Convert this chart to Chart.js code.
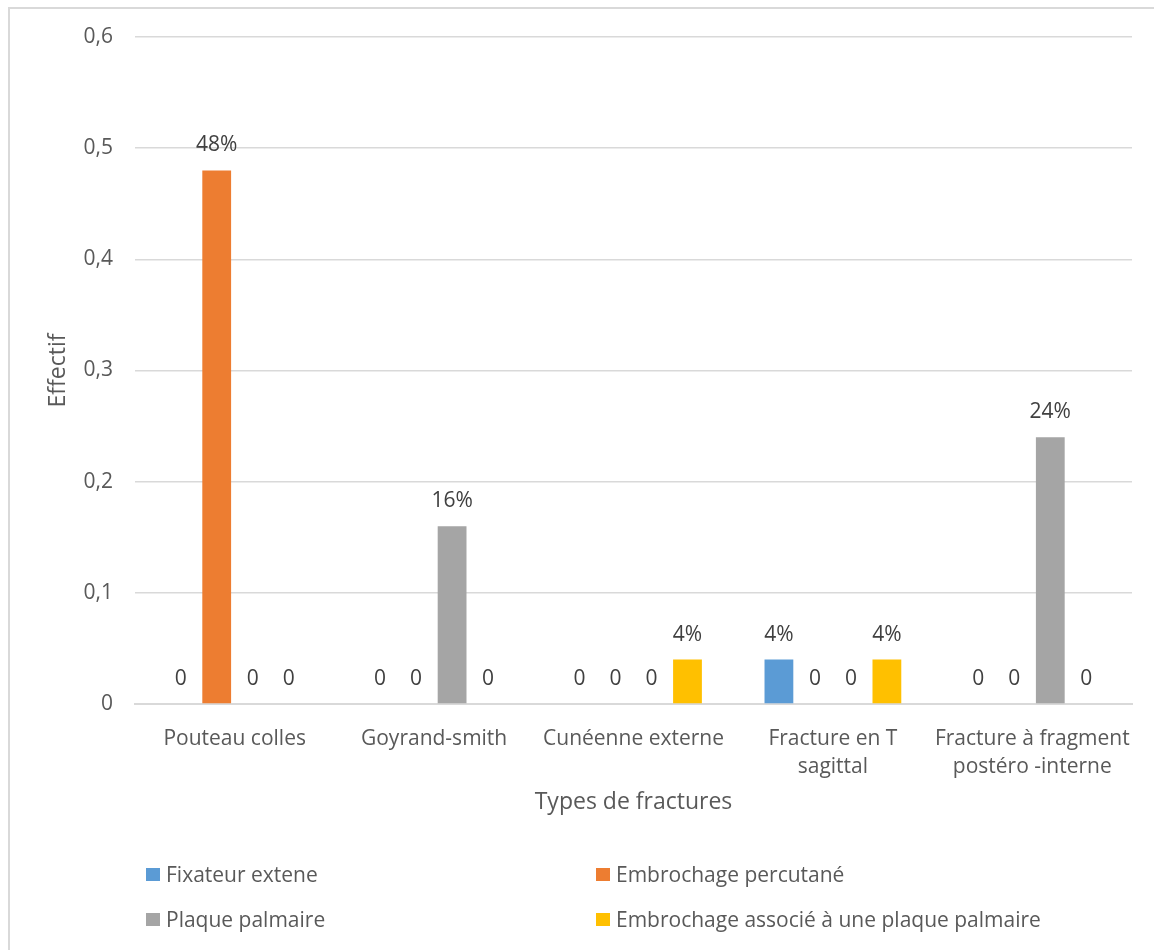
<!DOCTYPE html>
<html>
<head>
<meta charset="utf-8">
<script src="https://cdn.jsdelivr.net/npm/chart.js@4"></script>
<style>
  html, body { margin: 0; padding: 0; background: #fff; }
  #wrap { position: relative; width: 1154px; height: 950px; overflow: hidden; font-family: "Open Sans", sans-serif; }
  #frame { position: absolute; left: 8px; top: 7px; width: 1200px; height: 1000px; border: 2px solid #d9d9d9; box-sizing: border-box; }
  #chart { position: absolute; left: 0; top: 0; }
  .leg { position: absolute; display: flex; align-items: center; font-size: 21px; color: #595959; white-space: nowrap; }
  .leg span.box { display: inline-block; width: 14px; height: 13px; margin-right: 6px; }
</style>
</head>
<body>
<div id="wrap">
  <div id="frame"></div>
  <canvas id="chart" width="1154" height="950"></canvas>
  <div id="legend"></div>
</div>
<script>
// Data
const categories = ['Pouteau colles', 'Goyrand-smith', 'Cunéenne externe', ['Fracture en T', 'sagittal'], ['Fracture à fragment', 'postéro -interne']];
const seriesNames = ['Fixateur extene', 'Embrochage percutané', 'Plaque palmaire', 'Embrochage associé à une plaque palmaire'];
const fixateur = [0, 0, 0, 0.04, 0];
const embrochage = [0.48, 0, 0, 0, 0];
const plaque = [0, 0.16, 0, 0, 0.24];
const embrochagePlaque = [0, 0, 0.04, 0.04, 0];
const colors = ['#5B9BD5', '#ED7D31', '#A5A5A5', '#FFC000'];
const yTicks = [0, 0.1, 0.2, 0.3, 0.4, 0.5, 0.6];

const FONT = '"Open Sans", sans-serif';

// value labels above each bar ("0" for empty, percent otherwise)
const barLabels = {
    id: 'barLabels',
    afterDatasetsDraw(chart) {
        const ctx = chart.ctx;
        ctx.save();
        ctx.font = '21px ' + FONT;
        ctx.fillStyle = '#404040';
        ctx.textAlign = 'center';
        ctx.textBaseline = 'middle';
        chart.data.datasets.forEach((ds, i) => {
            chart.getDatasetMeta(i).data.forEach((bar, j) => {
                const v = ds.data[j];
                const txt = v === 0 ? '0' : Math.round(v * 100) + '%';
                ctx.fillText(txt, bar.x, bar.y - 25);
            });
        });
        ctx.restore();
    }
};

const seriesData = [fixateur, embrochage, plaque, embrochagePlaque];

new Chart(document.getElementById('chart').getContext('2d'), {
    type: 'bar',
    data: {
        labels: categories,
        datasets: seriesNames.map((name, i) => ({
            label: name,
            data: seriesData[i],
            backgroundColor: colors[i],
            categoryPercentage: 0.722,
            barPercentage: 0.8
        }))
    },
    options: {
        responsive: false,
        animation: false,
        devicePixelRatio: 1,
        layout: { padding: { left: 36, top: 37, right: 22, bottom: 126 } },
        plugins: {
            legend: { display: false },
            tooltip: { enabled: false }
        },
        scales: {
            x: {
                grid: { display: false },
                border: { color: '#d9d9d9', width: 2 },
                ticks: {
                    color: '#595959',
                    font: { family: FONT, size: 21, lineHeight: '28px' },
                    padding: 13,
                    maxRotation: 0,
                    autoSkip: false
                },
                title: {
                    display: true,
                    text: 'Types de fractures',
                    color: '#595959',
                    font: { family: FONT, size: 23 },
                    padding: { top: 0, bottom: 8 }
                },
                afterFit(scale) { scale.height = 120; }
            },
            y: {
                min: 0,
                max: 0.6,
                afterBuildTicks(scale) { scale.ticks = yTicks.map(v => ({ value: v })); },
                grid: { color: '#d9d9d9', lineWidth: 1.5, drawTicks: false },
                border: { display: false },
                ticks: {
                    color: '#595959',
                    font: { family: FONT, size: 21 },
                    padding: 22,
                    callback: v => String(Math.round(v * 10) / 10).replace('.', ',')
                },
                title: {
                    display: true,
                    text: 'Effectif',
                    color: '#595959',
                    font: { family: FONT, size: 23 },
                    padding: { top: 9, bottom: 0 }
                },
                afterFit(scale) { scale.width = 99; }
            }
        }
    },
    plugins: [barLabels]
});

// legend laid out in two columns like the reference
const legend = document.getElementById('legend');
const legPos = [[146, 874], [596, 874], [146, 919], [596, 919]];
seriesNames.forEach((name, i) => {
    const d = document.createElement('div');
    d.className = 'leg';
    d.style.left = legPos[i][0] + 'px';
    d.style.top = (legPos[i][1] - 14) + 'px';
    d.style.height = '28px';
    const b = document.createElement('span');
    b.className = 'box';
    b.style.background = colors[i];
    d.appendChild(b);
    d.appendChild(document.createTextNode(name));
    legend.appendChild(d);
});
</script>
</body>
</html>
